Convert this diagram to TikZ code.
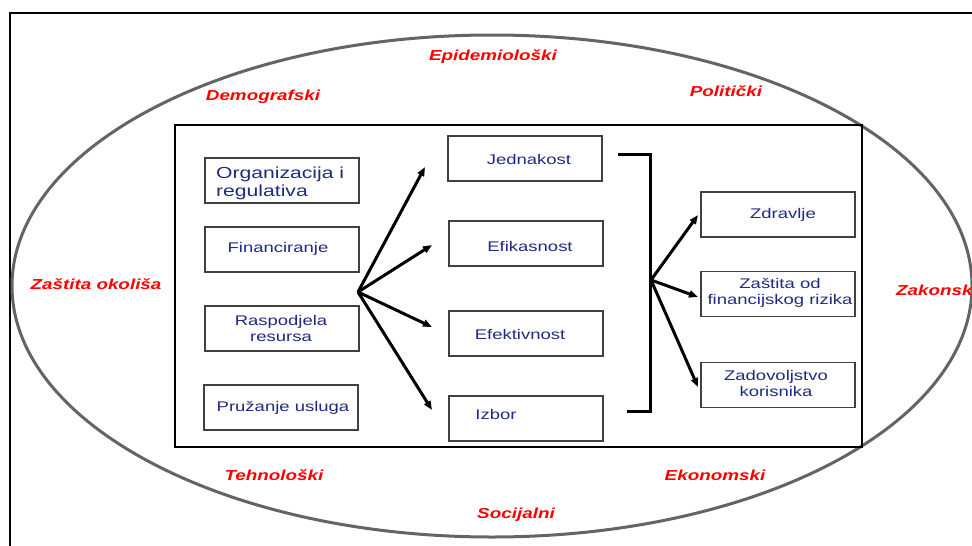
\documentclass[tikz,border=0pt]{standalone}
\usepackage{fontspec}
\setmainfont{Liberation Sans}
\newfontfamily\boxfont[FakeStretch=1.32]{Liberation Sans}
\newfontfamily\redfont[FakeStretch=1.3]{Liberation Sans}
\usetikzlibrary{arrows.meta}
\definecolor{txtblue}{RGB}{32,42,130}
\definecolor{redlab}{RGB}{255,0,0}
\definecolor{ellgray}{RGB}{100,100,100}
\tikzset{
  bx/.style={draw=black!75, line width=1.4pt, minimum width=154pt, minimum height=45pt, inner sep=0pt},
  bt/.style={font=\boxfont\fontsize{14}{16}\selectfont, text=txtblue, inner sep=0pt, align=center},
  btl/.style={font=\boxfont\fontsize{16}{18}\selectfont, text=txtblue, inner sep=0pt, align=left},
  rl/.style={font=\redfont\bfseries\itshape\fontsize{14.5}{16}\selectfont, text=redlab, inner sep=0pt},
  arr/.style={line width=3pt, -{Triangle[length=9pt,width=7pt]}},
  brk/.style={line width=3pt}
}
\begin{document}
\begin{tikzpicture}[x=1pt,y=-1pt]
\useasboundingbox (0,0) rectangle (972,546);
\clip (0,0) rectangle (972,546);
\fill[white] (0,0) rectangle (972,546);
% outer frame
\draw[line width=2pt] (10,550) -- (10,13) -- (980,13);
% ellipse
\draw[ellgray, line width=3pt] (492,286) ellipse [x radius=480, y radius=251];
% inner rectangle
\draw[line width=1.8pt] (175,125) rectangle (862,447);
% left boxes
\node[bx] (org) at (282,180.5) {};
\node[bx] (fin) at (282,249.5) {};
\node[bx] (ras) at (282,328.5) {};
\node[bx] (pru) at (281,407.5) {};
% middle boxes
\node[bx] (jed) at (525,158.5) {};
\node[bx] (efi) at (526,243.5) {};
\node[bx] (efe) at (526,333.5) {};
\node[bx] (izb) at (526,418.5) {};
% right boxes
\node[bx] (zdr) at (778,214.5) {};
\node[bx] (zas) at (778,294) {};
\node[bx] (zad) at (778,385) {};
% box texts
\node[btl, anchor=west] (torg) at (216,183) {Organizacija i\\regulativa};
\node[bt] (tfin) at (278,249) {Financiranje};
\node[bt] (tras) at (281,328) {Raspodjela\\resursa};
\node[bt] (tpru) at (283,408) {Pružanje usluga};
\node[bt] (tjed) at (529,159) {Jednakost};
\node[bt] (tefi) at (530,246) {Efikasnost};
\node[bt] (tefe) at (520,334) {Efektivnost};
\node[bt] (tizb) at (496,414) {Izbor};
\node[bt] (tzdr) at (783,215) {Zdravlje};
\node[bt] (tzas) at (780,293) {Zaštita od\\financijskog rizika};
\node[bt] (tzad) at (776,383) {Zadovoljstvo\\korisnika};
% left fan
\coordinate (f1) at (358,292);
\coordinate (a1) at (425,167);
\coordinate (a2) at (432,245);
\coordinate (a3) at (432,327);
\coordinate (a4) at (432,410);
\draw[arr] (f1) -- (a1);
\draw[arr] (f1) -- (a2);
\draw[arr] (f1) -- (a3);
\draw[arr] (f1) -- (a4);
% bracket
\coordinate (b1) at (618,154);
\coordinate (b2) at (650,154);
\coordinate (b3) at (650,411);
\coordinate (b4) at (627,411);
\draw[brk] (b1) -- (b2) -- (b3) -- (b4);
% right fan
\coordinate (f2) at (651,280);
\coordinate (c1) at (698,215);
\coordinate (c2) at (698,297);
\coordinate (c3) at (698,387);
\draw[arr] (f2) -- (c1);
\draw[arr] (f2) -- (c2);
\draw[arr] (f2) -- (c3);
% red labels
\node[rl] (epi) at (493,57) {Epidemiološki};
\node[rl] (dem) at (263,97) {Demografski};
\node[rl] (pol) at (726,91) {Politički};
\node[rl] (oko) at (96,284) {Zaštita okoliša};
\node[rl, anchor=west] (zak) at (896,290) {Zakonski};
\node[rl] (teh) at (274,475) {Tehnološki};
\node[rl] (eko) at (715,475) {Ekonomski};
\node[rl] (soc) at (516,515) {Socijalni};
\end{tikzpicture}
\end{document}
